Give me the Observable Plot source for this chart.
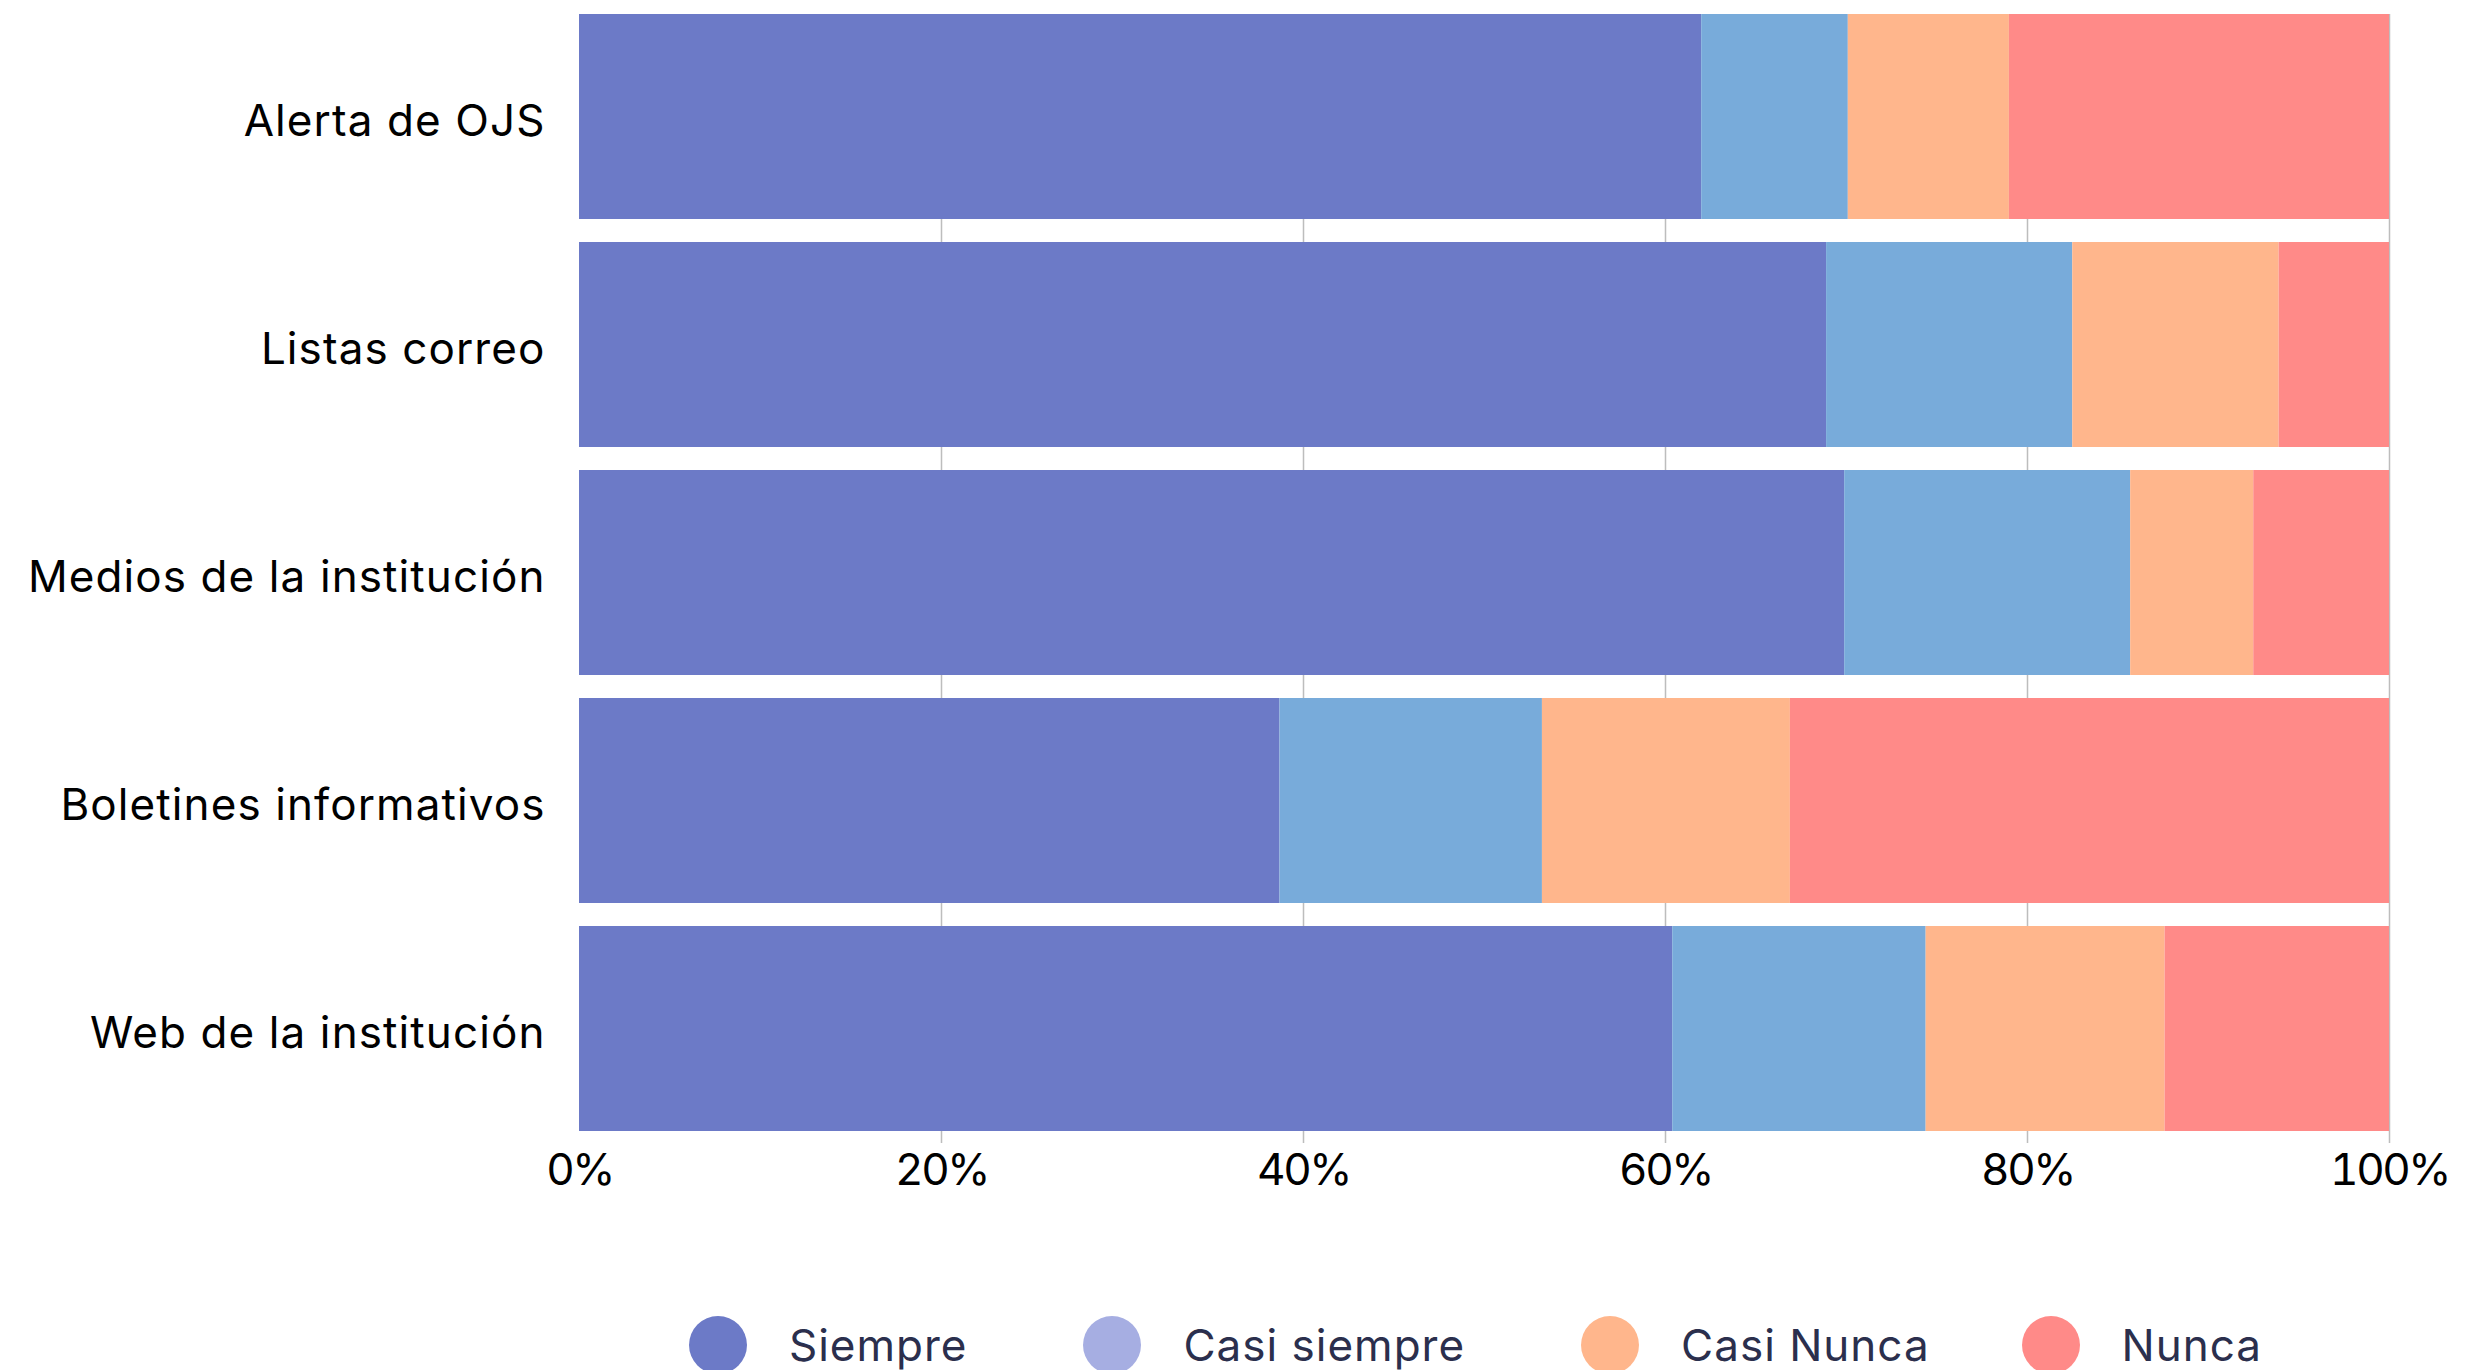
<!DOCTYPE html>
<html>
<head>
<meta charset="utf-8">
<script src="https://cdn.jsdelivr.net/npm/d3@7"></script>
<script src="https://cdn.jsdelivr.net/npm/@observablehq/plot@0.6"></script>
<style>
  html, body { margin: 0; padding: 0; background: #ffffff; }
  body { width: 2486px; height: 1370px; overflow: hidden; font-family: Inter, "Open Sans", sans-serif; }
  #chart svg { display: block; }
  #chart [aria-label="y-axis tick label"] { letter-spacing: 1.1px; }
  #chart [aria-label="x-axis tick label"] { letter-spacing: -2.5px; }
  #legend {
    display: flex; justify-content: center; align-items: center;
    margin-left: 570px; width: 1811px; margin-top: 113px;
  }
  .item { display: flex; align-items: center; gap: 42px; margin-right: 116px; }
  .item:nth-child(3) { margin-right: 92px; }
  .item:last-child { margin-right: 0; }
  .dot { width: 58px; height: 58px; border-radius: 50%; flex: none; }
  .lab { font-size: 44px; color: #2b2f4d; letter-spacing: 1px; }
</style>
</head>
<body>
<div id="chart"></div>
<div id="legend"></div>
<script>
// Survey: how often each channel is used (share of responses, %)
const categories = ["Alerta de OJS", "Listas correo", "Medios de la institución", "Boletines informativos", "Web de la institución"];
const levels = ["Siempre", "Casi siempre", "Casi Nunca", "Nunca"];
const siempre     = [62.0, 68.9, 69.9, 38.7, 60.4];
const casiSiempre = [ 8.1, 13.6, 15.8, 14.5, 14.0];
const casiNunca   = [ 8.9, 11.4,  6.8, 13.7, 13.2];
const nunca       = [21.0,  6.1,  7.5, 33.1, 12.4];
const xTicks = [0, 20, 40, 60, 80, 100];

const barColors    = ["#6c7ac7", "#78abda", "#ffb68c", "#ff8a88"];
const legendColors = ["#6c7ac7", "#a6aee2", "#ffb68c", "#ff8a88"];

const series = [siempre, casiSiempre, casiNunca, nunca];
const rows = [];
levels.forEach((level, j) => {
  categories.forEach((category, i) => {
    rows.push({category, level, value: series[j][i]});
  });
});

const chart = Plot.plot({
  width: 2486,
  height: 1203,
  marginLeft: 579,
  marginRight: 97,
  marginTop: 3,
  marginBottom: 60,
  style: {fontFamily: "Inter, 'Open Sans', sans-serif", fontSize: "44px", color: "#000", background: "#fff"},
  x: {domain: [0, 100]},
  y: {domain: categories, paddingInner: 0.1, paddingOuter: 0.05, label: null},
  color: {domain: levels, range: barColors},
  marks: [
    Plot.gridX([20, 40, 60, 80, 100], {stroke: "#bdbdbd", strokeOpacity: 1, strokeWidth: 1.5, insetTop: 11}),
    Plot.barX(rows, Plot.stackX({x: "value", y: "category", fill: "level", order: levels})),
    Plot.axisX({ticks: xTicks, tickFormat: d => d + "%", tickSize: 0, tickPadding: 10, label: null, fontSize: 44, fill: "#000"}),
    Plot.axisY({tickSize: 0, tickPadding: 34, dy: 5, label: null, fontSize: 44, fill: "#000"})
  ]
});
document.getElementById("chart").append(chart);

const legend = d3.select("#legend");
levels.forEach((level, i) => {
  const item = legend.append("div").attr("class", "item");
  item.append("div").attr("class", "dot").style("background", legendColors[i]);
  item.append("div").attr("class", "lab").text(level);
});
</script>
</body>
</html>
